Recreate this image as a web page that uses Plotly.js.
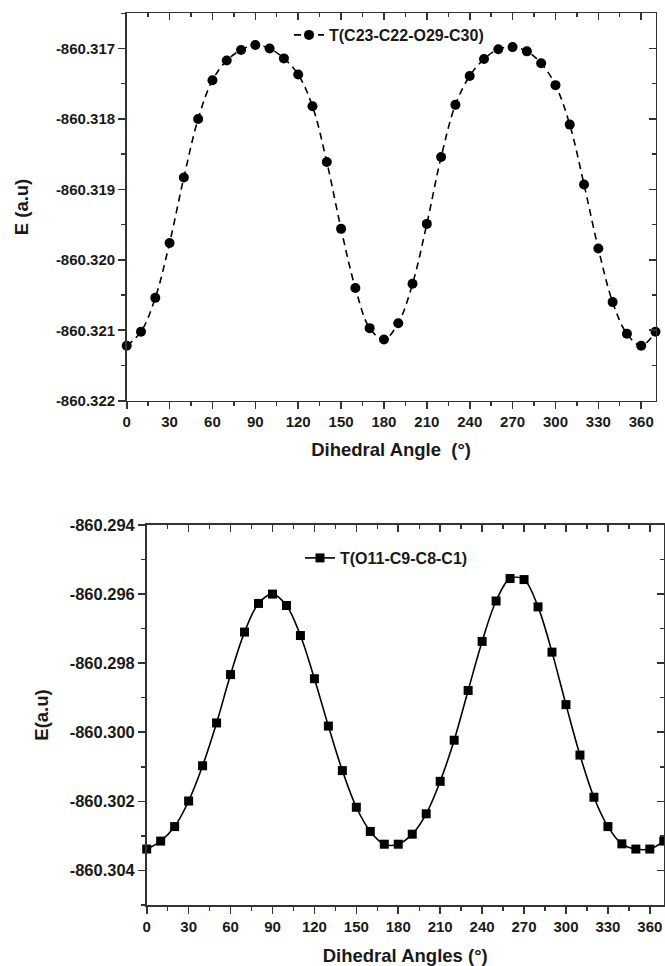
<!DOCTYPE html>
<html>
<head>
<meta charset="utf-8">
<script src="https://cdn.plot.ly/plotly-3.0.1.min.js"></script>
<style>html,body{margin:0;padding:0;background:#fff;}#chart{width:665px;height:966px;}</style>
</head>
<body>
<div id="chart"></div>
<script>
// Dihedral angles (degrees)
const anglesTop = [0,10,20,30,40,50,60,70,80,90,100,110,120,130,140,150,160,170,180,190,200,210,220,230,240,250,260,270,280,290,300,310,320,330,340,350,360,370];
// Energy scan T(C23-C22-O29-C30), a.u.
const energyTop = [-860.32122,-860.32102,-860.32054,-860.31976,-860.31883,-860.31800,-860.31745,-860.31717,-860.31702,-860.31695,-860.31700,-860.31714,-860.31737,-860.31782,-860.31861,-860.31956,-860.32040,-860.32097,-860.32113,-860.32090,-860.32034,-860.31949,-860.31854,-860.31780,-860.31739,-860.31715,-860.31701,-860.31698,-860.31704,-860.31721,-860.31752,-860.31808,-860.31893,-860.31984,-860.32060,-860.32105,-860.32122,-860.32102];

const anglesBottom = [0,10,20,30,40,50,60,70,80,90,100,110,120,130,140,150,160,170,180,190,200,210,220,230,240,250,260,270,280,290,300,310,320,330,340,350,360,370];
// Energy scan T(O11-C9-C8-C1), a.u.
const energyBottom = [-860.30338,-860.30315,-860.30273,-860.30199,-860.30097,-860.29973,-860.29833,-860.29710,-860.29627,-860.29600,-860.29633,-860.29720,-860.29845,-860.29982,-860.30111,-860.30217,-860.30287,-860.30324,-860.30324,-860.30295,-860.30236,-860.30142,-860.30023,-860.29879,-860.29737,-860.29620,-860.29555,-860.29558,-860.29637,-860.29768,-860.29920,-860.30066,-860.30188,-860.30273,-860.30323,-860.30338,-860.30338,-860.30315];

const nameTop = 'T(C23-C22-O29-C30)';
const nameBottom = 'T(O11-C9-C8-C1)';

// Tick labels
const xTickVals = [0,30,60,90,120,150,180,210,240,270,300,330,360];
const yTickValsTop = [-860.317,-860.318,-860.319,-860.320,-860.321,-860.322];
const yTickTextTop = ['-860.317','-860.318','-860.319','-860.320','-860.321','-860.322'];
const yTickValsBottom = [-860.294,-860.296,-860.298,-860.300,-860.302,-860.304];
const yTickTextBottom = ['-860.294','-860.296','-860.298','-860.300','-860.302','-860.304'];

const FONT = 'Liberation Sans, Arial, Helvetica, sans-serif';
const INK = '#1a1a1a';
const AX = '#333333';

const traces = [
  {
    x: anglesTop, y: energyTop, name: nameTop, type: 'scatter', mode: 'lines+markers',
    xaxis: 'x', yaxis: 'y', legend: 'legend', cliponaxis: false,
    line: {color: '#000', width: 1.6, dash: '7px,5px', shape: 'spline', smoothing: 1},
    marker: {symbol: 'circle', size: 10, color: '#000'}
  },
  {
    x: anglesBottom, y: energyBottom, name: nameBottom, type: 'scatter', mode: 'lines+markers',
    xaxis: 'x2', yaxis: 'y2', legend: 'legend2', cliponaxis: false,
    line: {color: '#000', width: 1.6, shape: 'spline', smoothing: 1},
    marker: {symbol: 'square', size: 9, color: '#000'}
  },
  // empty traces that only bring up the mirrored frame axes (top/right)
  {x: [], y: [], type: 'scatter', mode: 'lines', xaxis: 'x3', yaxis: 'y3', showlegend: false, hoverinfo: 'skip'},
  {x: [], y: [], type: 'scatter', mode: 'lines', xaxis: 'x4', yaxis: 'y4', showlegend: false, hoverinfo: 'skip'}
];

function baseAxis(extra) {
  return Object.assign({
    showline: true, linecolor: AX, linewidth: 1.6, showgrid: false, zeroline: false,
    ticks: 'outside', ticklen: 7, tickwidth: 1.6, tickcolor: AX,
    tickfont: {family: FONT, size: 15, color: INK, weight: 'bold'},
    fixedrange: true
  }, extra);
}

const dTop = {x: [126.7/665, 655.5/665], y: [1 - 400.7/966, 1 - 13.3/966]};
const dBot = {x: [146.7/665, 663.8/665], y: [1 - 905/966, 1 - 525/966]};

const titleFont = {family: FONT, size: 18.5, color: INK, weight: 'bold'};

const layout = {
  width: 665, height: 966,
  margin: {l: 0, r: 0, t: 0, b: 0},
  paper_bgcolor: '#fff', plot_bgcolor: '#fff',
  font: {family: FONT, color: INK},
  showlegend: true,
  xaxis: baseAxis({
    domain: dTop.x, anchor: 'y', range: [0, 370], tickvals: xTickVals,
    minor: {dtick: 15, tick0: 0, ticks: 'outside', ticklen: 4, tickwidth: 1.4, tickcolor: AX},
    title: {text: 'Dihedral Angle  (°)', standoff: 14, font: titleFont}
  }),
  yaxis: baseAxis({
    domain: dTop.y, anchor: 'x', range: [-860.322, -860.3165],
    tickvals: yTickValsTop, ticktext: yTickTextTop,
    minor: {dtick: 0.0005, tick0: -860.322, ticks: 'outside', ticklen: 4, tickwidth: 1.4, tickcolor: AX},
    title: {text: 'E (a.u)', standoff: 22, font: titleFont}
  }),
  xaxis3: baseAxis({
    domain: dTop.x, anchor: 'y3', overlaying: 'x', side: 'top', range: [0, 370], tickvals: xTickVals,
    ticks: 'inside', showticklabels: false,
    minor: {dtick: 15, tick0: 0, ticks: 'inside', ticklen: 4, tickwidth: 1.4, tickcolor: AX}
  }),
  yaxis3: baseAxis({
    domain: dTop.y, anchor: 'x3', overlaying: 'y', side: 'right', range: [-860.322, -860.3165], tickvals: yTickValsTop,
    ticks: 'inside', showticklabels: false,
    minor: {dtick: 0.0005, tick0: -860.322, ticks: 'inside', ticklen: 4, tickwidth: 1.4, tickcolor: AX}
  }),
  xaxis2: baseAxis({
    domain: dBot.x, anchor: 'y2', range: [0, 370], tickvals: xTickVals,
    minor: {dtick: 15, tick0: 0, ticks: 'outside', ticklen: 4, tickwidth: 1.4, tickcolor: AX},
    title: {text: 'Dihedral Angles (°)', standoff: 18, font: titleFont}
  }),
  yaxis2: baseAxis({
    domain: dBot.y, anchor: 'x2', range: [-860.305, -860.294],
    tickvals: yTickValsBottom, ticktext: yTickTextBottom,
    tickfont: {family: FONT, size: 16.5, color: INK, weight: 'bold'},
    minor: {dtick: 0.001, tick0: -860.305, ticks: 'outside', ticklen: 4, tickwidth: 1.4, tickcolor: AX},
    title: {text: 'E(a.u)', standoff: 16, font: titleFont}
  }),
  xaxis4: baseAxis({
    domain: dBot.x, anchor: 'y4', overlaying: 'x2', side: 'top', range: [0, 370], tickvals: xTickVals,
    ticks: 'inside', showticklabels: false,
    minor: {dtick: 15, tick0: 0, ticks: 'inside', ticklen: 4, tickwidth: 1.4, tickcolor: AX}
  }),
  yaxis4: baseAxis({
    domain: dBot.y, anchor: 'x4', overlaying: 'y2', side: 'right', range: [-860.305, -860.294], tickvals: yTickValsBottom,
    ticks: 'inside', showticklabels: false,
    minor: {dtick: 0.001, tick0: -860.305, ticks: 'inside', ticklen: 4, tickwidth: 1.4, tickcolor: AX}
  }),
  legend: {
    x: 289/665, y: 1 - 35/966, xanchor: 'left', yanchor: 'middle',
    bgcolor: 'rgba(0,0,0,0)', borderwidth: 0,
    font: {family: FONT, size: 16, color: INK, weight: 'bold'}
  },
  legend2: {
    x: 300/665, y: 1 - 558/966, xanchor: 'left', yanchor: 'middle',
    bgcolor: 'rgba(0,0,0,0)', borderwidth: 0,
    font: {family: FONT, size: 16, color: INK, weight: 'bold'}
  }
};

Plotly.newPlot('chart', traces, layout, {displayModeBar: false, staticPlot: true});
</script>
</body>
</html>
